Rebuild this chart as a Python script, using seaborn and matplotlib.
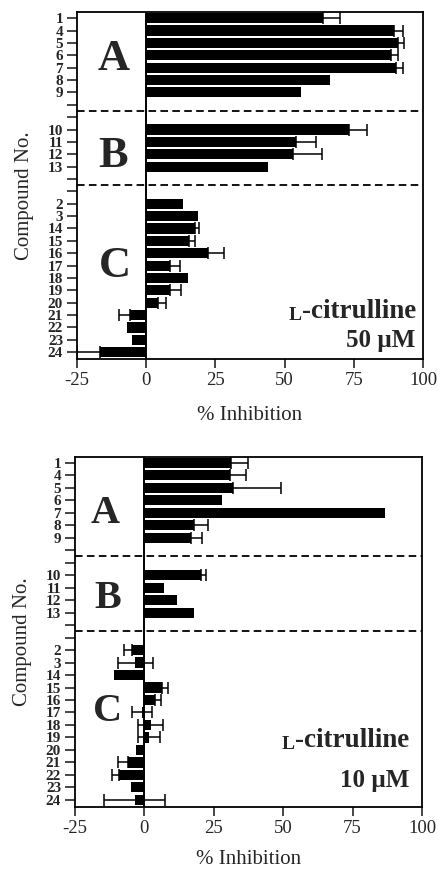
import numpy as np
import pandas as pd
import matplotlib
matplotlib.use("Agg")
import matplotlib.pyplot as plt
import seaborn as sns

# compound groups, top to bottom as in the figure
compounds_A = ["1", "4", "5", "6", "7", "8", "9"]
compounds_B = ["10", "11", "12", "13"]
compounds_C = ["2", "3", "14", "15", "16", "17", "18", "19", "20", "21", "22", "23", "24"]
compounds = compounds_A + compounds_B + compounds_C

# % inhibition with 50 uM L-citrulline
inhibition_50 = [64.0, 89.6, 90.8, 88.4, 90.4, 66.4, 55.9,
                 73.4, 54.0, 53.2, 43.9,
                 13.2, 18.7, 17.7, 15.6, 22.5, 8.7, 15.0, 8.7, 4.2, -6.0, -7.1, -5.2, -16.6]
error_50 = [6.0, 3.0, 2.5, 2.5, 2.5, 0, 0,
            6.2, 7.3, 10.2, 0,
            0, 0, 1.5, 2.2, 5.5, 3.4, 0, 3.9, 3.0, 4.0, 0, 0, 8.4]

# % inhibition with 10 uM L-citrulline
inhibition_10 = [31.3, 30.7, 32.1, 28.0, 86.8, 18.0, 16.8,
                 20.5, 6.9, 11.8, 18.0,
                 -4.6, -3.2, -11.0, 6.5, 3.8, -1.0, 2.3, 1.8, -2.9, -5.9, -9.2, -4.7, -3.4]
error_10 = [6.0, 6.0, 17.0, 0, 0, 4.8, 3.9,
            1.8, 0, 0, 0,
            2.9, 6.2, 0, 2.1, 2.1, 3.6, 4.5, 4.0, 0, 3.6, 2.4, 0, 11.0]

x_ticks = [-25, 0, 25, 50, 75, 100]
x_tick_labels = ["-25", "0", "25", "50", "75", "100"]
group_names = ["A", "B", "C"]

# two empty slots between groups (dashed separator sits between them)
order = compounds_A + ["gap1", "gap2"] + compounds_B + ["gap3", "gap4"] + compounds_C


def draw_panel(ax, values, errors, conc, letters, letter_size, title_y, conc_y, right_x, xlabel_y):
    df = pd.DataFrame({"compound": compounds, "inhibition": values, "err": errors})
    sns.barplot(data=df, x="inhibition", y="compound", order=order, orient="h",
                color="black", saturation=1, width=0.82, linewidth=0,
                errorbar=None, zorder=3, ax=ax)

    # measured error bars; the half that would sit inside the bar is dropped
    pos = np.array([order.index(c) for c in compounds])
    v = df["inhibition"].to_numpy()
    e = df["err"].to_numpy()
    has = e > 0
    inner = np.where(e > np.abs(v), e, 0.0)
    lower = np.where(v >= 0, inner, e)
    upper = np.where(v >= 0, e, inner)
    ax.errorbar(v[has], pos[has], xerr=[lower[has], upper[has]], fmt="none",
                ecolor="black", elinewidth=1.1, capsize=4.5, capthick=1.1, zorder=2)

    ax.axvline(0, color="black", lw=1.4, zorder=4)
    for y in (7.5, 13.5):
        ax.axhline(y, color="black", lw=1.3, ls=(0, (4.2, 2.4)))

    ax.set_xlim(-25, 100)
    ax.set_ylim(len(order) - 0.45, -0.5)
    ax.set_xticks(x_ticks, x_tick_labels)
    ax.set_yticks(range(len(order)))
    ax.set_yticklabels(["" if c.startswith("gap") else c for c in order],
                       fontweight="bold", fontsize=11)
    ax.tick_params(axis="y", length=7, width=1.2, pad=3, direction="out")
    ax.tick_params(axis="x", length=6.5, width=1.2, pad=3, labelsize=13.5, direction="out")
    for s in ax.spines.values():
        s.set_visible(True)
        s.set_linewidth(1.3)
        s.set_color("black")
        s.set_zorder(5)

    ax.set_xlabel("% Inhibition", fontsize=15)
    ax.set_ylabel("Compound No.", fontsize=15)
    ax.xaxis.set_label_coords(0.5, xlabel_y)
    ax.yaxis.set_label_coords(-0.125, 0.47)

    for name, (lx, ly) in zip(group_names, letters):
        ax.text(lx, ly, name, fontsize=letter_size, fontweight="bold",
                ha="center", va="baseline")

    t = ax.text(right_x, title_y, "-citrulline", fontsize=19.5, fontweight="bold",
                ha="right", va="baseline")
    ax.annotate("L", xy=(0, 0), xycoords=t, fontsize=14, fontweight="bold",
                ha="right", va="bottom")
    ax.text(right_x, conc_y, conc, fontsize=18, fontweight="bold",
            ha="right", va="baseline")


sns.set_style("ticks")
plt.rcParams["font.family"] = ["Liberation Serif", "DejaVu Serif"]
plt.rcParams["axes.unicode_minus"] = False

fig = plt.figure(figsize=(4.38, 8.69), dpi=100)
ax_top = fig.add_axes([0.1758, 0.5869, 0.790, 0.3993])
ax_bot = fig.add_axes([0.1712, 0.0717, 0.7922, 0.4028])

draw_panel(ax_top, inhibition_50, error_50, "50 µM",
           [(-11.9, 4.2), (-11.9, 12.0), (-11.2, 20.9)], 32,
           24.2, 26.6, 97.4, -0.135)
draw_panel(ax_bot, inhibition_10, error_10, "10 µM",
           [(-14.1, 4.8), (-13.3, 11.6), (-13.2, 20.7)], 29,
           22.8, 26.0, 95.4, -0.125)

fig.savefig("out.png", dpi=100)
